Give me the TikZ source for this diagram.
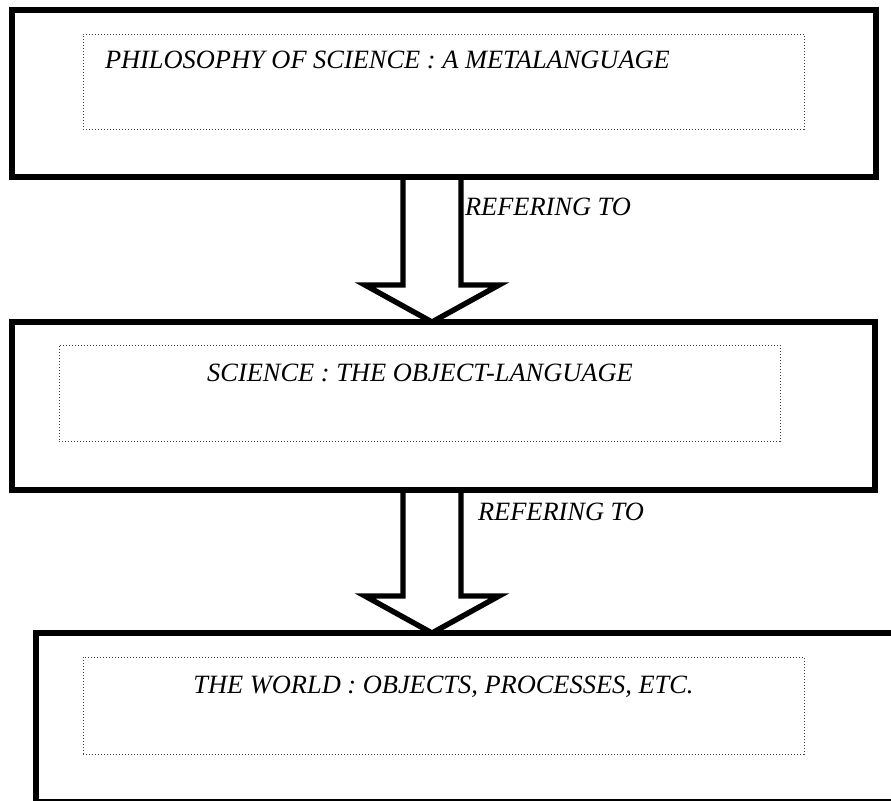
\documentclass[tikz,border=0pt]{standalone}
\usepackage{fontspec}
\setmainfont{Liberation Serif}
\usetikzlibrary{calc}

\begin{document}
\begin{tikzpicture}[
		x=0.5pt, y=-0.5pt,
		every node/.style={inner sep=0pt, outer sep=0pt, font=\fontsize{13.2}{15}\selectfont\itshape},
		outer/.style={rectangle, draw, line width=3pt},
		inner/.style={rectangle, draw=black!75, line width=0.5pt, dash pattern=on 0.5pt off 1pt,
			minimum width=360.5pt},
		hollow/.style={draw, line width=2.7pt, line join=miter}
	]
  \clip (0,0) rectangle (891,800);
  % boxes
  \node (top_box) [outer, minimum width=432pt, minimum height=83.5pt] at (444,93.5) {};
  \node (mid_box) [outer, minimum width=431.5pt, minimum height=84pt] at (443.5,406) {};
  \node (low_box) [outer, minimum width=462pt, minimum height=84.5pt] at (498,717.5) {};
  \node (top_dots) [inner, minimum height=47.5pt] at (443.5,81.5) {};
  \node (mid_dots) [inner, minimum height=48pt] at (419.5,393) {};
  \node (low_dots) [inner, minimum height=48.5pt] at (443.5,705.5) {};
  % texts
  \node (top_text) [anchor=base west] at (105,68) {PHILOSOPHY OF SCIENCE : A METALANGUAGE};
  \node (mid_text) [anchor=base] at (420,381) {SCIENCE : THE OBJECT-LANGUAGE};
  \node (low_text) [anchor=base] at (443.5,693) {THE WORLD : OBJECTS, PROCESSES, ETC.};
  \node (ref_1) [anchor=base west] at (465,215) {REFERING TO};
  \node (ref_2) [anchor=base west] at (478,520) {REFERING TO};
  % arrows
  \coordinate (axis) at (432,0);
  \draw[hollow] ($(top_box.south -| axis)+(-29,0)$) -- ($(mid_box.north -| axis)+(-29,-37)$)
    -- ++(-38,0) -- (mid_box.north -| axis) -- ++(67,-37) -- ++(-38,0)
    -- ($(top_box.south -| axis)+(29,0)$);
  \draw[hollow] ($(mid_box.south -| axis)+(-29,0)$) -- ($(low_box.north -| axis)+(-29,-37)$)
    -- ++(-38,0) -- (low_box.north -| axis) -- ++(67,-37) -- ++(-38,0)
    -- ($(mid_box.south -| axis)+(29,0)$);
\end{tikzpicture}
\end{document}
